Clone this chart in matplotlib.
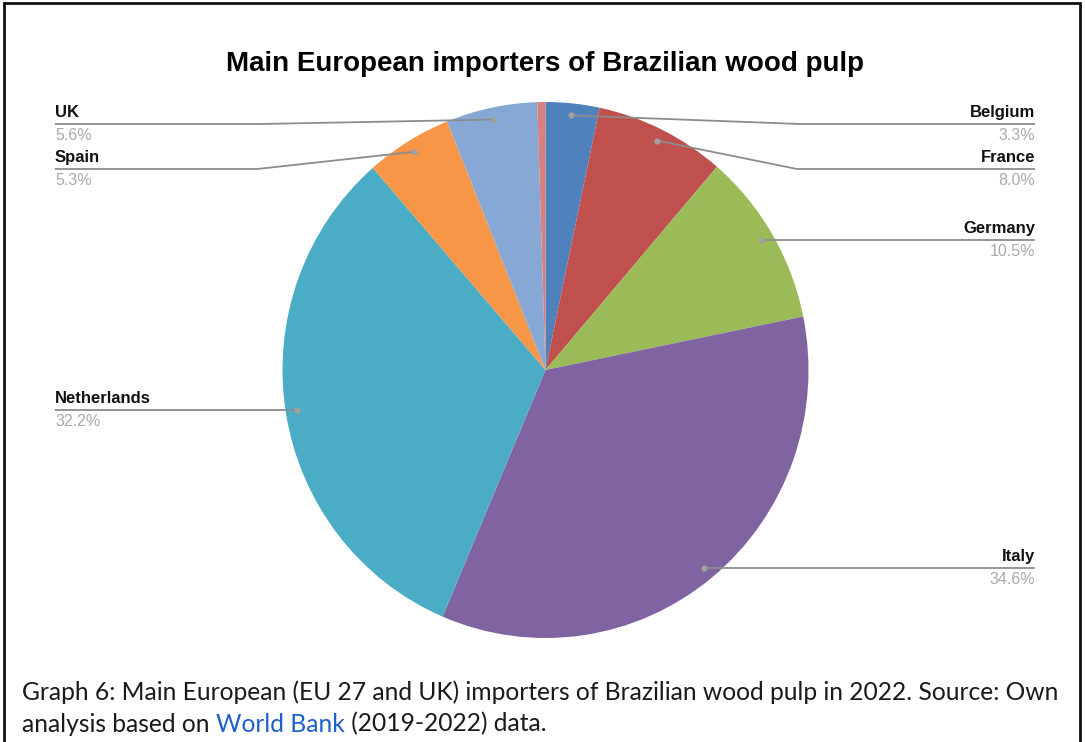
import numpy as np
import matplotlib
matplotlib.use("Agg")
import matplotlib.pyplot as plt

# data (share of imports, %)
countries = ["Belgium", "France", "Germany", "Italy", "Netherlands", "Spain", "UK", "Other"]
shares = [3.3, 8.0, 10.5, 34.6, 32.2, 5.3, 5.6, 0.5]
colors = ["#4f81bd", "#c0504d", "#9bbb59", "#8064a2", "#4bacc6", "#f79646", "#87a8d4", "#d6807f"]

title = "Main European importers of Brazilian wood pulp"
caption1 = "Graph 6: Main European (EU 27 and UK) importers of Brazilian wood pulp in 2022. Source: Own"
caption2 = ["analysis based on ", "World Bank", " (2019-2022) data."]

W, H = 1085, 742
S = 1.019  # the pie in the picture is a touch taller than wide
def Y(y):
    return (H - y) / S

fig = plt.figure(figsize=(W / 100, H / 100), dpi=100)
ax = fig.add_axes([0, 0, 1, 1])

cx, cy, r = 545.5, Y(370), 263
wedges, _ = ax.pie(shares, colors=colors, startangle=90, counterclock=False,
                   center=(cx, cy), radius=r, wedgeprops=dict(linewidth=0))
ax.set_xlim(0, W)
ax.set_ylim(0, H / S)
ax.set_aspect("auto")
ax.axis("off")

# label layout: side, y of the leader line (px from top), elbow x
layout = {
    "Belgium": ("right", 124, 800),
    "France": ("right", 169, 797),
    "Germany": ("right", 241, None),
    "Italy": ("right", 567, None),
    "Netherlands": ("left", 410, None),
    "Spain": ("left", 169, 257),
    "UK": ("left", 124, 260),
}
xl, xr = 55, 1035
for w, name, val in zip(wedges, countries, shares):
    if name not in layout:
        continue
    side, ly, ex = layout[name]
    a = np.deg2rad((w.theta1 + w.theta2) / 2)
    dx, dy = cx + 0.955 * r * np.cos(a), cy + 0.955 * r * np.sin(a)
    end = xr if side == "right" else xl
    if ex is None:
        xs, ys = [dx, end], [dy, dy]
        base = dy
    else:
        base = Y(ly)
        xs, ys = [dx, ex, end], [dy, base, base]
    ax.plot(xs, ys, color="#8c8c8c", lw=1.3, solid_capstyle="butt", zorder=3)
    ax.plot(dx, dy, "o", color="#a0a0a0", ms=4.5, mec="none", zorder=4)
    ha = "right" if side == "right" else "left"
    ax.text(end, base + 4, name, ha=ha, va="bottom", fontweight="bold", color="#111111",
            family="Liberation Sans", fontsize=12)
    ax.text(end, base - 4, f"{val:.1f}%", ha=ha, va="top", color="#aaaaaa",
            family="Liberation Sans", fontsize=11.5)

ax.text(545, Y(64), title, ha="center", va="center", fontsize=20, fontweight="bold",
        family="Liberation Sans", color="#000000")

cap_font = dict(family="Lato", fontsize=17.7, color="#1a1a1a")
ax.text(22, Y(692), caption1, ha="left", va="center", **cap_font)
t = ax.text(22, Y(724), caption2[0], ha="left", va="center", **cap_font)
t = ax.annotate(caption2[1], xy=(1, 0), xycoords=t, ha="left", va="bottom",
                family="Lato", fontsize=17.7, color="#1f5fcc")
ax.annotate(caption2[2], xy=(1, 0), xycoords=t, ha="left", va="bottom", **cap_font)

# frame (open at bottom)
ax.plot([4, 4, 1080, 1080], [0, Y(3), Y(3), 0], color="#111111", lw=2, solid_joinstyle="miter")

fig.savefig("out.png", dpi=100)
